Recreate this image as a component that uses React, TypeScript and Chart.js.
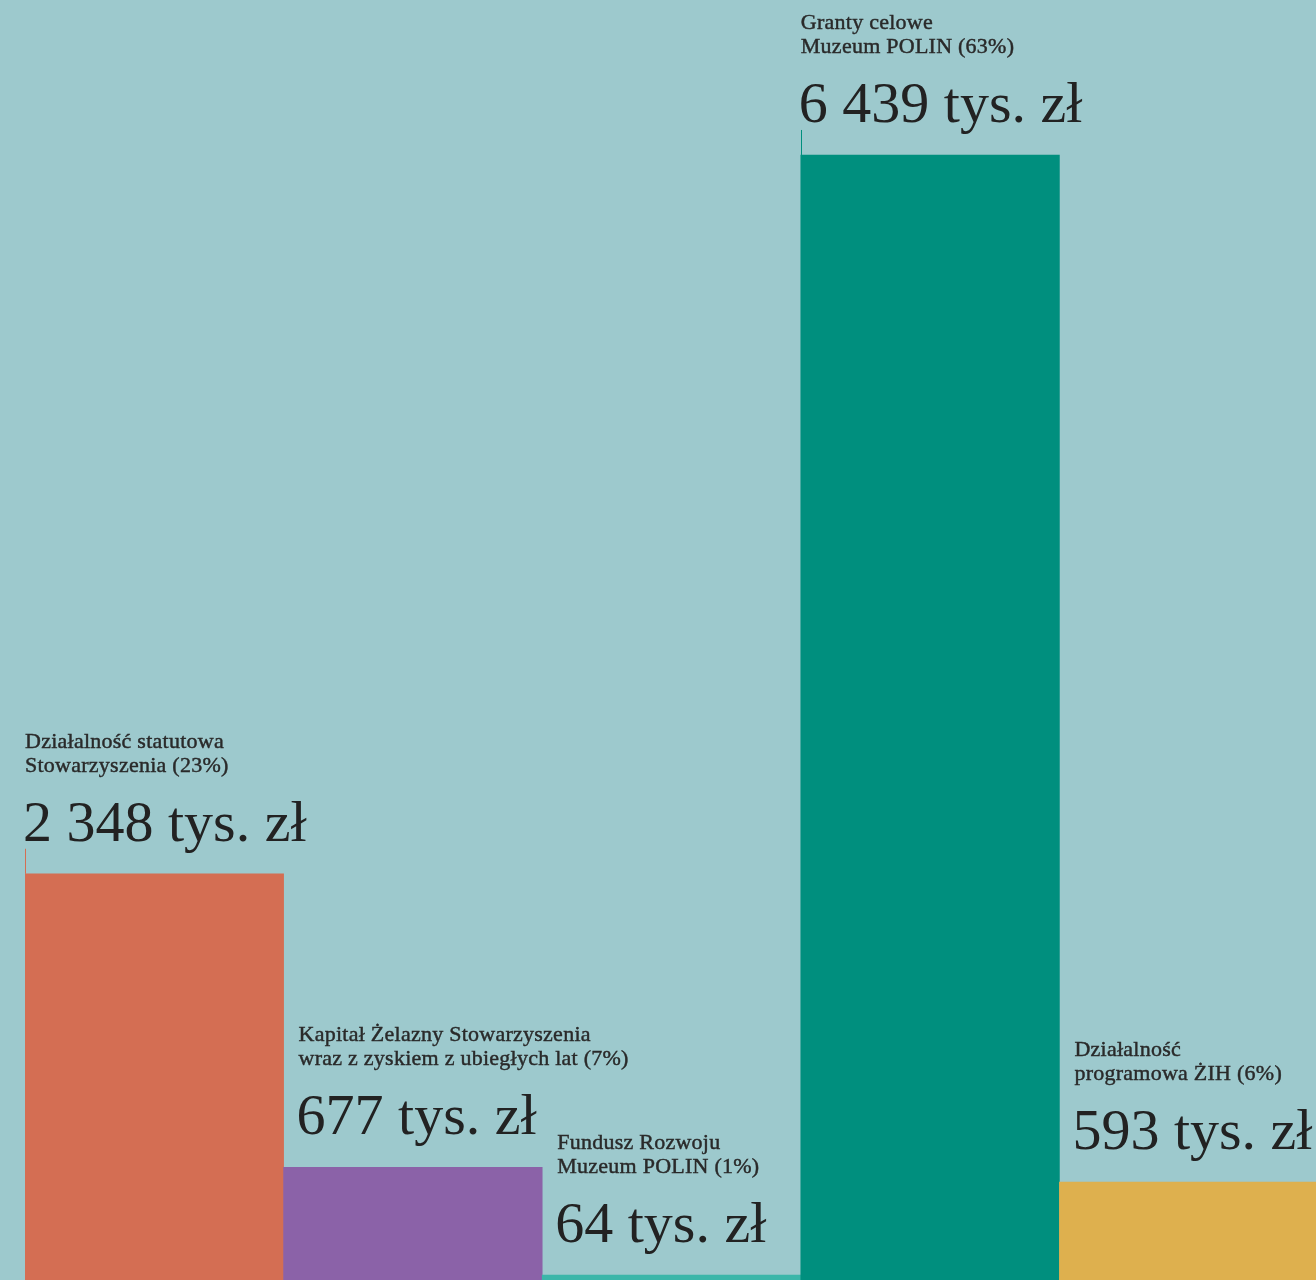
import React, { useEffect, useRef } from "react";
import { Chart, registerables } from "chart.js";

Chart.register(...registerables);

const categories: string[][] = [
  ["Działalność statutowa", "Stowarzyszenia"],
  ["Kapitał Żelazny Stowarzyszenia", "wraz z zyskiem z ubiegłych lat"],
  ["Fundusz Rozwoju", "Muzeum POLIN"],
  ["Granty celowe", "Muzeum POLIN"],
  ["Działalność", "programowa ŻIH"],
];
const shares: number[] = [23, 7, 1, 63, 6];
const values: number[] = [2348, 677, 64, 6439, 593];
const unit = "tys. zł";

const barColors = ["#D46E53", "#8B62A8", "#3BB6A9", "#008F7E", "#DEB04E"];
const BG = "#9DC9CD";

function fmt(v: number): string {
  return String(v).replace(/\B(?=(\d{3})+(?!\d))/g, " ");
}

const labelPlugin = {
  id: "barLabels",
  afterDatasetsDraw(chart: any) {
    const ctx = chart.ctx as CanvasRenderingContext2D;
    const meta = chart.getDatasetMeta(0);
    meta.data.forEach((bar: any, i: number) => {
      const props = bar.getProps(["x", "y", "width"], true);
      const left = props.x - props.width / 2;
      const top = props.y;
      const withTick = i === 0 || i === 3;
      const tx = withTick ? left : left + 15;
      ctx.save();
      if (withTick) {
        ctx.strokeStyle = barColors[i];
        ctx.lineWidth = 1;
        ctx.beginPath();
        ctx.moveTo(Math.round(left) + 0.5, top - 25);
        ctx.lineTo(Math.round(left) + 0.5, top);
        ctx.stroke();
      }
      ctx.textAlign = "left";
      ctx.textBaseline = "alphabetic";
      ctx.fillStyle = "#2a2a2a";
      ctx.strokeStyle = "#2a2a2a";
      ctx.lineWidth = 0.45;
      ctx.font = "22px 'Liberation Serif', serif";
      (ctx as any).letterSpacing = "0.25px";
      const lines = categories[i];
      const l1 = lines[0];
      const l2 = lines[1] + " (" + shares[i] + "%)";
      ctx.fillText(l1, tx, top - 126);
      ctx.strokeText(l1, tx, top - 126);
      ctx.fillText(l2, tx, top - 102);
      ctx.strokeText(l2, tx, top - 102);
      ctx.fillStyle = "#222222";
      ctx.font = "58px 'Liberation Serif', serif";
      (ctx as any).letterSpacing = "0px";
      ctx.fillText(fmt(values[i]) + " " + unit, tx - 2, top - 33);
      ctx.restore();
    });
  },
};

export default function App() {
  const ref = useRef<HTMLCanvasElement | null>(null);
  useEffect(() => {
    if (!ref.current) return;
    const chart = new Chart(ref.current, {
      type: "bar",
      data: {
        labels: categories.map((c) => c.join(" ")),
        datasets: [
          {
            data: values,
            backgroundColor: barColors,
            borderWidth: 0,
            barPercentage: 1,
            categoryPercentage: 1,
          },
        ],
      },
      options: {
        responsive: false,
        animation: false,
        layout: { padding: { left: 25, right: 0, top: 0, bottom: 0 } },
        plugins: {
          legend: { display: false },
          tooltip: { enabled: false },
          title: { display: false },
        },
        scales: {
          x: { display: false, offset: true, grid: { display: false } },
          y: { display: false, min: 36, max: 7321 },
        },
      },
      plugins: [labelPlugin],
    });
    return () => chart.destroy();
  }, []);
  return (
    <div
      style={{
        position: "fixed",
        left: 0,
        top: 0,
        width: 1316,
        height: 1280,
        overflow: "hidden",
        background: BG,
      }}
    >
      <canvas ref={ref} width={1318} height={1280} style={{ display: "block", width: 1318, height: 1280 }} />
    </div>
  );
}
